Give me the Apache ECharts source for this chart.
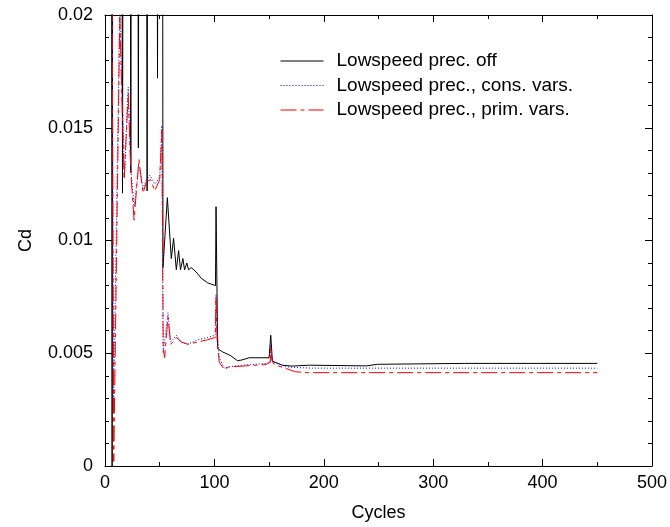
<!DOCTYPE html>
<html>
<head>
<meta charset="utf-8">
<script src="https://cdn.jsdelivr.net/npm/echarts@6/dist/echarts.min.js"></script>
<style>
html,body{margin:0;padding:0;background:#fff;}
#chart{width:670px;height:527px;}
</style>
</head>
<body>
<div id="chart"></div>
<script>
// ---- data ----
const seriesNames = ["Lowspeed prec. off", "Lowspeed prec., cons. vars.", "Lowspeed prec., prim. vars."];

const offCycles = [0, 5.5, 6.5, 7.5, 14.6, 16, 17.4, 22.3, 23.6, 24.9, 29.2, 30.5, 31.8, 37.2, 38.5, 39.8, 46.8, 48, 49.2, 52.2, 53, 57, 60.6, 62.7, 65.2, 67.3, 69, 71.2, 72.7, 74.8, 76.4, 78.8, 83.4, 87.9, 93.9, 101, 101.5, 103, 107.5, 115, 121, 125, 131.8, 150, 151.5, 153, 162, 171, 186, 239, 249, 329, 450];
const offCd =     [0.05, 0.05, 0.0, 0.05, 0.05, 0.0121, 0.05, 0.05, 0.0130, 0.05, 0.05, 0.0141, 0.05, 0.05, 0.0122, 0.05, 0.05, 0.0172, 0.05, 0.05, 0.0088, 0.0119, 0.0092, 0.0101, 0.0087, 0.00955, 0.0087, 0.0092, 0.0087, 0.0090, 0.0087, 0.0088, 0.0086, 0.00833, 0.00812, 0.0080, 0.0115, 0.0052, 0.00506, 0.00489, 0.00467, 0.00470, 0.0048, 0.0048, 0.0058, 0.00465, 0.00447, 0.00443, 0.00447, 0.00444, 0.00451, 0.00455, 0.00455];

const consCycles = [0, 4.5, 7.8, 13.5, 17.8, 21.2, 23.6, 26.6, 31, 34.8, 37.9, 41, 45.5, 50, 52, 53.2, 54.5, 57.6, 60, 62, 65.2, 69.7, 75.7, 84.8, 93.9, 100.8, 101.5, 102.5, 104.5, 109, 113.6, 125.7, 147, 151, 151.5, 152.5, 154.5, 165, 177, 190, 450];
const consCd =     [0.05, 0.05, 0.0025, 0.0205, 0.0128, 0.0168, 0.0132, 0.0115, 0.0133, 0.0123, 0.0127, 0.0129, 0.0125, 0.0128, 0.0151, 0.0050, 0.0050, 0.0068, 0.0055, 0.0056, 0.0058, 0.0055, 0.0054, 0.0056, 0.0057, 0.0058, 0.0076, 0.0060, 0.0048, 0.00433, 0.0044, 0.00447, 0.00455, 0.0046, 0.0054, 0.0048, 0.0046, 0.0044, 0.00436, 0.00434, 0.00434];

const primCycles = [0, 4.5, 8, 13.5, 17.5, 21.2, 23.6, 26.6, 31, 34.8, 37.9, 41.8, 45.5, 50, 52, 53.2, 54.5, 57.6, 60, 62, 65.2, 69.7, 75.7, 84.8, 93.9, 100.8, 101.5, 102.5, 104.5, 109, 113.6, 125.7, 147, 151, 151.5, 152.5, 154.5, 165, 174, 185, 450];
const primCd =     [0.05, 0.05, 0.0002, 0.0199, 0.0127, 0.0165, 0.0130, 0.0109, 0.0136, 0.0121, 0.0126, 0.0127, 0.0122, 0.0127, 0.0149, 0.0052, 0.0048, 0.0066, 0.0054, 0.0055, 0.0057, 0.0055, 0.0054, 0.0055, 0.0056, 0.0057, 0.0075, 0.0055, 0.0046, 0.00428, 0.0044, 0.00443, 0.0045, 0.0046, 0.0053, 0.0047, 0.0045, 0.00433, 0.00418, 0.00414, 0.00414];

const xTicks = {min: 0, max: 500, step: 100};
const yTicks = {min: 0, max: 0.02, step: 0.005};

// ---- chart ----
const FONT = "'Liberation Sans', Arial, Helvetica, sans-serif";
function zip(xs, ys){ return xs.map((x, i) => [x, ys[i]]); }

const chart = echarts.init(document.getElementById('chart'), null, {renderer: 'canvas'});

function xAxisCfg(pos, labels){
  return {
    type: 'value', position: pos, min: xTicks.min, max: xTicks.max, interval: xTicks.step,
    name: labels ? 'Cycles' : '', nameLocation: 'middle', nameGap: 38,
    nameTextStyle: {fontFamily: FONT, fontSize: 18, color: '#000'},
    axisLine: {show: true, onZero: false, lineStyle: {color: '#000', width: 1}},
    axisTick: {show: true, inside: true, length: 7, lineStyle: {color: '#000'}},
    minorTick: {show: true, splitNumber: 2, length: 4, lineStyle: {color: '#000'}},
    axisLabel: {show: labels, margin: 8, fontFamily: FONT, fontSize: 18, color: '#000'},
    splitLine: {show: false}
  };
}
function yAxisCfg(pos, labels){
  return {
    type: 'value', position: pos, min: yTicks.min, max: yTicks.max, interval: yTicks.step,
    name: labels ? 'Cd' : '', nameLocation: 'middle', nameGap: 70, nameRotate: 90,
    nameTextStyle: {fontFamily: FONT, fontSize: 18, color: '#000'},
    axisLine: {show: true, onZero: false, lineStyle: {color: '#000', width: 1}},
    axisTick: {show: true, inside: true, length: 7, lineStyle: {color: '#000'}},
    minorTick: {show: true, splitNumber: 5, length: 4, lineStyle: {color: '#000'}},
    axisLabel: {show: labels, margin: 12, fontFamily: FONT, fontSize: 18, color: '#000'},
    splitLine: {show: false}
  };
}

const option = {
  animation: false,
  backgroundColor: '#fff',
  grid: {left: 105, right: 15, top: 15, bottom: 59, containLabel: false},
  xAxis: [xAxisCfg('bottom', true), xAxisCfg('top', false)],
  yAxis: [yAxisCfg('left', true), yAxisCfg('right', false)],
  legend: {
    orient: 'vertical', left: 275, top: 44,
    itemWidth: 43, itemHeight: 10, itemGap: 0.5,
    itemStyle: {opacity: 0},
    lineStyle: {width: 1},
    textStyle: {fontFamily: FONT, fontSize: 19, color: '#000', lineHeight: 24, padding: [0, 0, 0, 8]},
    data: seriesNames
  },
  series: [
    {name: seriesNames[0], type: 'line', symbol: 'none', showSymbol: false, clip: true,
     xAxisIndex: 0, yAxisIndex: 0, data: zip(offCycles, offCd),
     itemStyle: {color: '#000000'}, lineStyle: {color: '#000000', width: 1, type: 'solid'}},
    {name: seriesNames[1], type: 'line', symbol: 'none', showSymbol: false, clip: true,
     xAxisIndex: 0, yAxisIndex: 0, data: zip(consCycles, consCd),
     itemStyle: {color: '#0000ff'}, lineStyle: {color: '#0000ff', width: 1, type: [1, 2]}},
    {name: seriesNames[2], type: 'line', symbol: 'none', showSymbol: false, clip: true,
     xAxisIndex: 0, yAxisIndex: 0, data: zip(primCycles, primCd),
     itemStyle: {color: '#ff0000'}, lineStyle: {color: '#ff0000', width: 1, type: [16, 4, 4, 4]}}
  ]
};
chart.setOption(option);
</script>
</body>
</html>
